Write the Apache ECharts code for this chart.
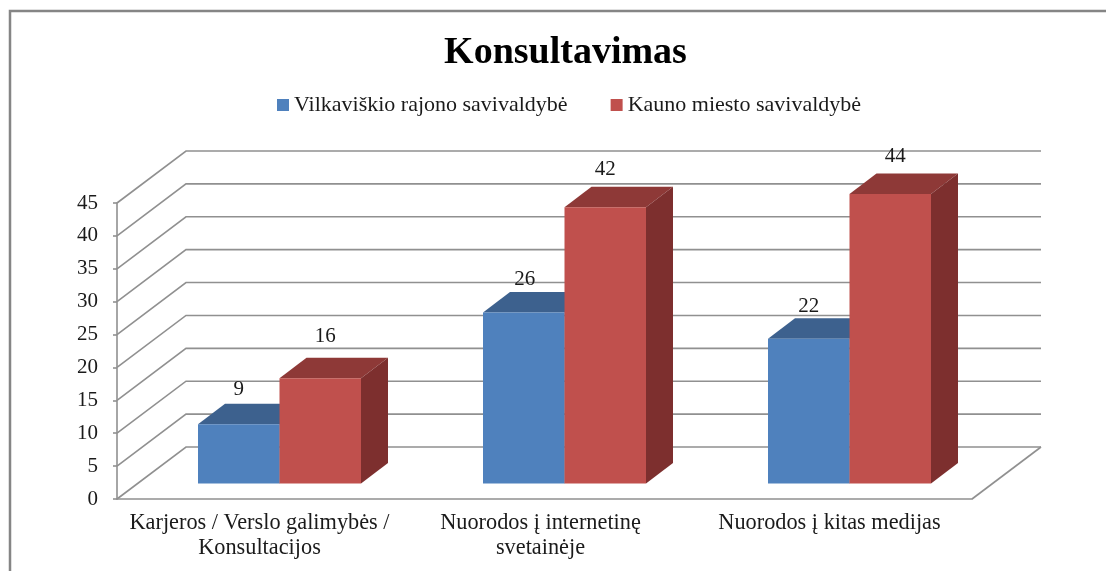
<!DOCTYPE html>
<html>
<head>
<meta charset="utf-8">
<style>html,body{margin:0;padding:0;background:#fff}#chart{width:1106px;height:571px}</style>
<script src="https://cdn.jsdelivr.net/npm/echarts@6/dist/echarts.min.js"></script>
</head>
<body>
<div id="chart"></div>
<script>
const titleText = 'Konsultavimas';
const categories = ['Karjeros / Verslo galimybės /\nKonsultacijos', 'Nuorodos į internetinę\nsvetainėje', 'Nuorodos į kitas medijas'];
const seriesNames = ['Vilkaviškio rajono savivaldybė', 'Kauno miesto savivaldybė'];
const vilkaviskis = [9, 26, 22];
const kaunas = [16, 42, 44];
const yTicks = [0, 5, 10, 15, 20, 25, 30, 35, 40, 45];

const font = '"Liberation Serif", serif';
const gridColor = '#909090';
// pseudo 3d offsets, pixels
const wall = [69, -52];
const floor = [20, -15.5];
const depth = [27, -20.5];
const barW = 81.5;
// the middle axis label sits a little left of its band in the original
const categoryPad = [0, 8, 0];

const chart = echarts.init(document.getElementById('chart'));

function renderWall(params, api) {
  const p = api.coord([0, api.value(1)]);
  const cs = params.coordSys;
  const x0 = cs.x, x1 = cs.x + cs.width, y = p[1];
  const shape = { points: [[x0, y], [x0 + wall[0], y + wall[1]], [x1 + wall[0], y + wall[1]]] };
  const children = [{ type: 'polyline', shape: shape, style: { fill: null, stroke: gridColor, lineWidth: 1.6 } }];
  if (api.value(1) === 0) {
    children.push({
      type: 'line',
      shape: { x1: x1, y1: y, x2: x1 + wall[0], y2: y + wall[1] },
      style: { stroke: gridColor, lineWidth: 1.6 }
    });
  }
  return { type: 'group', children: children };
}

// labelDx / labelDy: per bar nudge of the value label, pixels
function barRenderer(seriesIndex, front, top, side, labelDx, labelDy) {
  return function (params, api) {
    const idx = api.value(0);
    const v = api.value(1);
    const base = api.coord([idx, 0]);
    const head = api.coord([idx, v]);
    const xl = base[0] + floor[0] - barW + seriesIndex * barW;
    const xr = xl + barW;
    const yb = base[1] + floor[1];
    const yt = head[1] + floor[1];
    const children = [
      { type: 'polygon', shape: { points: [[xl, yt], [xl + depth[0], yt + depth[1]], [xr + depth[0], yt + depth[1]], [xr, yt]] }, style: { fill: top } },
      { type: 'polygon', shape: { points: [[xr, yt], [xr + depth[0], yt + depth[1]], [xr + depth[0], yb + depth[1]], [xr, yb]] }, style: { fill: side } },
      { type: 'rect', shape: { x: xl, y: yt, width: barW, height: yb - yt }, style: { fill: front } },
      {
        type: 'text',
        style: {
          text: String(v), x: (xl + xr) / 2 + labelDx[idx], y: yt + depth[1] - labelDy[idx],
          align: 'center', verticalAlign: 'middle', font: '21px ' + font, fill: '#1a1a1a'
        }
      }
    ];
    return { type: 'group', children: children };
  };
}

chart.setOption({
  animation: false,
  backgroundColor: '#fff',
  title: {
    text: titleText, left: 560.5, top: 29, textAlign: 'center',
    textStyle: { fontFamily: font, fontWeight: 'bold', fontSize: 38, color: '#000' }
  },
  legend: {
    data: seriesNames, top: 94, left: 277, padding: 0, itemWidth: 12, itemHeight: 12, itemGap: 43,
    icon: 'rect',
    textStyle: { fontFamily: font, fontSize: 22, color: '#1a1a1a' }
  },
  grid: { left: 117, top: 203, width: 855, height: 296 },
  xAxis: {
    type: 'category',
    data: categories.map(function (c, i) {
      return { value: c, textStyle: { padding: [0, categoryPad[i], 0, 0] } };
    }),
    axisLine: { show: true, lineStyle: { color: gridColor, width: 1.6 } },
    axisTick: { show: false },
    axisLabel: { fontFamily: font, fontSize: 22.3, color: '#1a1a1a', lineHeight: 25, margin: 12, interval: 0 }
  },
  yAxis: {
    type: 'value', min: 0, max: 45, interval: 5,
    axisLine: { show: true, lineStyle: { color: gridColor, width: 1.6 } },
    axisTick: { show: true, length: 4, lineStyle: { color: gridColor, width: 1.6 } },
    axisLabel: { fontFamily: font, fontSize: 21, color: '#1a1a1a', margin: 19, padding: [3, 0, 0, 0] },
    splitLine: { show: false }
  },
  graphic: [
    { type: 'polyline', silent: true, shape: { points: [[10, 571], [10, 11], [1106, 11]] }, style: { fill: null, stroke: '#858585', lineWidth: 2.5 } }
  ],
  series: [
    {
      type: 'custom', name: 'walls', z: 1, silent: true,
      renderItem: renderWall,
      encode: { x: 0, y: 1 },
      data: yTicks.map(function (t) { return [0, t]; })
    },
    {
      type: 'custom', name: seriesNames[0], z: 2,
      itemStyle: { color: '#4f81bd' },
      renderItem: barRenderer(0, '#4f81bd', '#3d618e', '#375a85', [0, 1, 0], [14, 12, 12]),
      encode: { x: 0, y: 1 },
      data: vilkaviskis.map(function (v, i) { return [i, v]; })
    },
    {
      type: 'custom', name: seriesNames[1], z: 3,
      itemStyle: { color: '#c0504d' },
      renderItem: barRenderer(1, '#c0504d', '#8e3937', '#7d2f2e', [5, 0, 5], [21, 17, 17]),
      encode: { x: 0, y: 1 },
      data: kaunas.map(function (v, i) { return [i, v]; })
    }
  ]
});
</script>
</body>
</html>
